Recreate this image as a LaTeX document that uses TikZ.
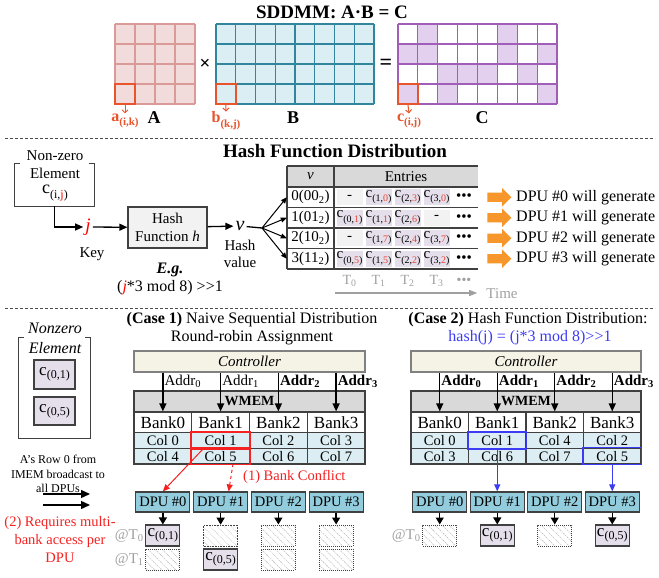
\documentclass[tikz,border=0pt]{standalone}
\usepackage{fontspec}
\setmainfont{Liberation Serif}
\usetikzlibrary{arrows.meta,patterns.meta,shapes.arrows,calc}

\definecolor{apink}{HTML}{F2DCDB}
\definecolor{apinkln}{HTML}{DA9A97}
\definecolor{hired}{HTML}{E8542C}
\definecolor{bblue}{HTML}{DBEEF4}
\definecolor{bteal}{HTML}{31859C}
\definecolor{cline}{HTML}{A05EB8}
\definecolor{cfill}{HTML}{E3D0EE}
\definecolor{entry}{HTML}{E5DFEC}
\definecolor{emptyc}{HTML}{F2F2F2}
\definecolor{hdr}{HTML}{D9D9D9}
\definecolor{orng}{HTML}{F7962A}
\definecolor{dpuc}{HTML}{93CDDD}
\definecolor{ctrlc}{HTML}{F5F3E6}
\definecolor{colc}{HTML}{DCEEF3}
\definecolor{hblue}{HTML}{3C3CF5}
\definecolor{confl}{HTML}{F52222}
\definecolor{tgray}{HTML}{A0A0A0}
\definecolor{idx}{HTML}{E8452E}
\definecolor{edge}{HTML}{404040}

\newcommand{\fsz}[1]{\fontsize{#1}{#1}\selectfont}
% letter with a lowered, smaller index
\newcommand{\lsub}[4]{{\fsz{#1}#3}\raisebox{-0.3em}{\fsz{#2}#4}}
\newcommand{\ce}[2]{\lsub{15}{10}{c}{(#1,\textcolor{idx}{#2})}}
\newcommand{\cbig}[1]{\lsub{17}{12}{c}{(#1)}}

\begin{document}
\begin{tikzpicture}[x=1pt,y=-1pt,
  conn/.style={line width=1.3pt,-{Triangle[length=8pt,width=7pt]}},
  down/.style={line width=1.3pt,-{Triangle[length=7pt,width=8pt]}},
  fine/.style={line width=1pt,-{Triangle[length=6pt,width=5pt]}},
  txt/.style={inner sep=0pt},
  sep/.style={line width=0.9pt,gray!60!black,dash pattern=on 3pt off 2pt},
  frame/.style={line width=1.3pt,edge},
  entc/.style={fill=entry,draw=white,line width=0.8pt,minimum width=27pt,minimum height=17pt,inner sep=0pt,font=\fsz{15}},
  emc/.style={entc,fill=emptyc},
  pcell/.style={fill=entry,draw=edge,line width=1.1pt,inner sep=0pt},
  hatch/.style={draw=edge,densely dotted,line width=1pt,pattern={Lines[angle=-45,distance=5pt,line width=0.6pt]},pattern color=gray!50,inner sep=0pt,minimum width=34pt,minimum height=21pt},
  res/.style={pcell,minimum width=34pt,minimum height=21pt},
  ctrlbox/.style={fill=ctrlc,draw=gray,line width=1.5pt,minimum height=21pt,inner sep=0pt,font=\fsz{15}\itshape},
  wmembox/.style={fill=hdr,draw=edge,line width=1.3pt,minimum height=21pt,inner sep=0pt,font=\fsz{14}\bfseries},
  bankc/.style={fill=white,draw=edge,line width=1.2pt,minimum height=20.5pt,inner sep=0pt,font=\fsz{17}},
  colcell/.style={fill=colc,draw=edge,line width=1.2pt,minimum height=15.75pt,inner sep=0pt,font=\fsz{14.5}},
  dpubox/.style={fill=dpuc,draw=edge,line width=1.2pt,minimum width=54pt,minimum height=20pt,inner sep=0pt,font=\fsz{14.5}},
  addr/.style={anchor=west,inner sep=0pt,font=\fsz{15}},
  hl/.style={line width=1.4pt},
  oarrow/.style={single arrow,fill=orng,draw=none,inner sep=4.5pt,single arrow head extend=4.5pt,single arrow head indent=0pt,minimum height=24pt,minimum width=18pt}
]
\useasboundingbox (0,0) rectangle (659,578);
\fill[white] (0,0) rectangle (659,578);

% ================= SDDMM: A.B = C =================
\node[txt,font=\fsz{19}\bfseries] (title) at (332,12) {SDDMM: A·B = C};

% matrix A (4x4)
\fill[apink] (115,24) rectangle (195,104);
\foreach \k in {0,...,4}{
  \draw[apinkln,line width=1.1pt] (115+20*\k,24) -- (115+20*\k,104);
  \draw[apinkln,line width=1.1pt] (115,24+20*\k) -- (195,24+20*\k);
}
\node[draw=hired,line width=1.5pt,minimum size=20pt,inner sep=0pt] (acell) at (125,94) {};
\node[txt,text=hired,font=\fsz{16}\bfseries] (alab) at (125,121) {\lsub{16}{11}{a}{(i,k)}};
\draw[hired,line width=1pt,-{Straight Barb[length=3pt,width=6pt]}] (acell.south) -- (alab.north);
\node[txt,font=\fsz{18}\bfseries] (aname) at (154,118) {A};

\node[txt,font=\fsz{19}\bfseries] (optimes) at (205,64) {×};

% matrix B (4x8)
\fill[bblue] (216,24) rectangle (374,104);
\foreach \k in {0,...,8}
  \draw[bteal,line width=1.1pt] (216+19.75*\k,24) -- (216+19.75*\k,104);
\foreach \k in {0,...,4}
  \draw[bteal,line width=1.1pt] (216,24+20*\k) -- (374,24+20*\k);
\node[draw=hired,line width=1.5pt,minimum width=19.75pt,minimum height=20pt,inner sep=0pt] (bcell) at (225.875,94) {};
\node[txt,text=hired,font=\fsz{16}\bfseries] (blab) at (226,121) {\lsub{16}{11}{b}{(k,j)}};
\draw[hired,line width=1pt,-{Straight Barb[length=3pt,width=6pt]}] (bcell.south) -- (blab.north);
\node[txt,font=\fsz{18}\bfseries] (bname) at (293,118) {B};

\node[txt,font=\fsz{22}\bfseries] (opeq) at (386,64) {=};

% matrix C (4x8, sampled)
\foreach \c/\r in {1/0,5/0,0/1,1/1,5/1,7/1,2/2,3/2,4/2,6/2,0/3,2/3,7/3}
  \fill[cfill] (398+19.875*\c,24+20*\r) rectangle +(19.875,20);
\foreach \k in {0,...,8}
  \draw[cline,line width=1.1pt] (398+19.875*\k,24) -- (398+19.875*\k,104);
\foreach \k in {0,...,4}
  \draw[cline,line width=1.1pt] (398,24+20*\k) -- (557,24+20*\k);
\node[draw=hired,line width=1.5pt,minimum width=19.875pt,minimum height=20pt,inner sep=0pt] (ccell) at (407.94,94) {};
\node[txt,text=hired,font=\fsz{16}\bfseries] (clab) at (409,121) {\lsub{16}{11}{c}{(i,j)}};
\draw[hired,line width=1pt,-{Straight Barb[length=3pt,width=6pt]}] (ccell.south) -- (clab.north);
\node[txt,font=\fsz{18}\bfseries] (cname) at (482,118) {C};

\draw[sep] (5,138) -- (655,138);

% ================= Hash function distribution =================
\node[txt,font=\fsz{19}\bfseries] (htitle) at (335,151) {Hash Function Distribution};

\node[minimum width=79pt,minimum height=42pt,inner sep=0pt] (nz) at (54.5,185) {};
\draw[frame] ($(nz.north west)+(5,0)$) -- (nz.north west) -- (nz.south west) -- (nz.south east) -- (nz.north east) -- ++(-5,0);
\node[txt,font=\fsz{15}] (nzt1) at (55,156) {Non-zero};
\node[txt,font=\fsz{15}] (nzt2) at (55,173) {Element};
\node[txt,font=\fsz{15}] (nzt3) at (55,193) {\lsub{18}{12}{c}{(i,\textcolor{red}{j})}};

\node[inner sep=2pt,text=red,font=\fsz{19}\itshape] (jkey) at (88,227) {j};
\node[txt,font=\fsz{15}] (keyl) at (92,254) {Key};
\node[draw=edge,fill=emptyc,line width=1.2pt,minimum width=79pt,minimum height=41pt,inner sep=0pt,align=center,font=\fontsize{15}{18}\selectfont] (hf) at (167.5,227.5) {Hash\\Function \textit{h}};
\node[inner sep=2pt,font=\fsz{20}\itshape] (vv) at (240,226) {v};
\node[txt,font=\fsz{15}] (hv1) at (240,245) {Hash};
\node[txt,font=\fsz{15}] (hv2) at (240,262) {value};
\draw[conn] (nz.south) |- (jkey);
\draw[conn] (jkey) -- (hf);
\draw[conn] (hf) -- (vv);
\coordinate (br) at (262,228);
\draw[line width=1.3pt] (vv) -- (br);

\node[txt,font=\fsz{16}\bfseries\itshape] (eg) at (170,270) {E.g.};
\node[txt,font=\fsz{16}] (egf) at (170,288) {(\textcolor{red}{\textit{j}}*3 mod 8) >\kern0pt>1};

% table of hash buckets
\fill[hdr] (287,166) rectangle (478,187);
\foreach \yy in {166,187,207.5,228,248.5,269}
  \draw[edge,line width=1.3pt] (287,\yy) -- (478,\yy);
\draw[edge,line width=1.3pt] (287,166) -- (287,269);
\draw[edge,line width=1.3pt] (334,166) -- (334,269);
\node[txt,font=\fsz{15}\itshape] (vh) at (310.5,176.5) {v};
\node[txt,font=\fsz{15}] (enth) at (406,176.5) {Entries};
\foreach \n/\bits in {0/00,1/01,2/10,3/11}{
  \node[txt,minimum width=47pt,minimum height=20.5pt,font=\fsz{15}] (vr\n) at (310.5,197.25+20.5*\n) {\n(\bits\textsubscript{2})};
  \draw[fine] (br) -- (vr\n.west);
  \node[txt,font=\fsz{15}] (dt\n) at (464,197.25+20.5*\n) {•••};
  \node[oarrow] (oa\n) at (497,197.25+20.5*\n) {};
  \node[txt,anchor=west,font=\fsz{16}] (gen\n) at (516,197.25+20.5*\n) {DPU \#\n{} will generate};
}
\node[emc]  (e00) at (349.5,197.25) {-};
\node[entc] (e01) at (378.5,197.25) {\ce{1}{0}};
\node[entc] (e02) at (407.5,197.25) {\ce{2}{3}};
\node[entc] (e03) at (436.5,197.25) {\ce{3}{0}};
\node[entc] (e10) at (349.5,217.75) {\ce{0}{1}};
\node[entc] (e11) at (378.5,217.75) {\ce{1}{1}};
\node[entc] (e12) at (407.5,217.75) {\ce{2}{6}};
\node[emc]  (e13) at (436.5,217.75) {-};
\node[emc]  (e20) at (349.5,238.25) {-};
\node[entc] (e21) at (378.5,238.25) {\ce{1}{7}};
\node[entc] (e22) at (407.5,238.25) {\ce{2}{4}};
\node[entc] (e23) at (436.5,238.25) {\ce{3}{7}};
\node[entc] (e30) at (349.5,258.75) {\ce{0}{5}};
\node[entc] (e31) at (378.5,258.75) {\ce{1}{5}};
\node[entc] (e32) at (407.5,258.75) {\ce{2}{2}};
\node[entc] (e33) at (436.5,258.75) {\ce{3}{2}};

% time axis
\foreach \k in {0,...,3}
  \node[txt,text=tgray,font=\fsz{14}] (tm\k) at (349.5+29*\k,281) {T\textsubscript{\k}};
\node[txt,text=tgray,font=\fsz{14}] (tdots) at (464,281) {•••};
\coordinate (tax) at (335,293);
\node[txt,text=tgray,font=\fsz{15}] (timel) at (502,294) {Time};
\draw[tgray,line width=1.2pt,-{Triangle[length=8pt,width=6pt]},shorten >=9pt] (tax) -- (tax -| timel.west);

\draw[sep] (5,308) -- (655,308);

% ================= bottom: two distributions =================
\node[minimum width=71pt,minimum height=100pt,inner sep=0pt] (nzb) at (54.5,388) {};
\draw[frame] ($(nzb.north west)+(5,0)$) -- (nzb.north west) -- (nzb.south west) -- (nzb.south east) -- (nzb.north east) -- ++(-5,0);
\node[txt,font=\fsz{16}\itshape] (nzb1) at (55,328) {Nonzero};
\node[txt,font=\fsz{16}\itshape] (nzb2) at (55,348) {Element};
\node[pcell,minimum width=41pt,minimum height=29pt] (nzc1) at (54.5,374.5) {\cbig{0,1}};
\node[pcell,minimum width=41pt,minimum height=28pt] (nzc2) at (54.5,411) {\cbig{0,5}};

\node[txt,align=center,font=\fontsize{12}{14.5}\selectfont] (bcast) at (58,474) {A's Row 0 from\\IMEM broadcast to\\all DPUs};
\coordinate (bs1) at (43,494); \coordinate (be1) at (90,494);
\coordinate (bs2) at (43,505); \coordinate (be2) at (90,505);
\draw[line width=1.4pt,-{Triangle[length=9pt,width=8pt]}] (bs1) -- (be1);
\draw[line width=1.4pt,-{Triangle[length=9pt,width=8pt]}] (bs2) -- (be2);
\node[txt,align=center,text=confl,font=\fontsize{14.5}{18}\selectfont] (multi) at (60,540) {(2) Requires multi-\\bank access per\\DPU};

% ----- case 1 -----
\node[txt,font=\fsz{16}] (c1t) at (252,320) {\textbf{(Case 1)} Naive Sequential Distribution};
\node[txt,font=\fsz{16}] (c1s) at (252,338) {Round-robin Assignment};
\node[ctrlbox,minimum width=231pt] (ctl1) at (249.5,361.5) {Controller};
\node[wmembox,minimum width=231pt] (wm1) at (249.5,401.5) {WMEM};
\foreach \k/\p/\q in {0/0/4,1/1/5,2/2/6,3/3/7}{
  \node[bankc,minimum width=57.75pt] (bk1\k) at (162.875+57.75*\k,422.25) {Bank\k};
  \node[colcell,minimum width=57.75pt] (ca1\k) at (162.875+57.75*\k,440.4) {Col \p};
  \node[colcell,minimum width=57.75pt] (cb1\k) at (162.875+57.75*\k,456.1) {Col \q};
  \node[dpubox] (d1\k) at (162.875+57.75*\k,502) {DPU \#\k};
  \draw[conn] (ctl1.south -| bk1\k.north) -- (bk1\k.north);
}
\foreach \k/\lab in {0/{Addr\textsubscript{0}},1/{Addr\textsubscript{1}},2/{\textbf{Addr\textsubscript{2}}},3/{\textbf{Addr\textsubscript{3}}}}
  \node[addr] (al1\k) at ($(bk1\k.north)+(1.5,-30)$) {\lab};
\draw[confl,hl] (ca11.north west) rectangle (ca11.south east);
\draw[confl,hl] (cb11.north west) rectangle (cb11.south east);

\node[res]   (r10) at (162.875,535.5) {\cbig{0,1}};
\node[hatch] (r11) at (220.625,535.5) {};
\node[hatch] (r12) at (278.375,535.5) {};
\node[hatch] (r13) at (336.125,535.5) {};
\node[hatch] (s10) at (162.875,559.5) {};
\node[res]   (s11) at (220.625,559.5) {\cbig{0,5}};
\node[hatch] (s12) at (278.375,559.5) {};
\node[hatch] (s13) at (336.125,559.5) {};
\foreach \k in {0,...,3} \draw[down] (d1\k.south) -- (r1\k.north);
\node[txt,anchor=east,text=tgray,font=\fsz{15}] (at10) at ($(r10.west)+(-1.5,0)$) {@T\textsubscript{0}};
\node[txt,anchor=east,text=tgray,font=\fsz{15}] (at11) at ($(s10.west)+(-1.5,0)$) {@T\textsubscript{1}};

\coordinate (cfa) at (203,449);
\coordinate (cfb) at (233,464);
\draw[confl,line width=1pt,-{Triangle[length=7pt,width=6pt]}] (cfa) -- (d10.north);
\draw[confl,line width=1pt,dashed,-{Triangle[length=7pt,width=6pt]}] (cfb) -- ($(d11.north)+(8,0)$);
\node[txt,anchor=west,text=confl,font=\fsz{14.5}] (bconf) at (243,477) {(1) Bank Conflict};

% ----- case 2 -----
\node[txt,font=\fsz{16}] (c2t) at (528,320) {\textbf{(Case 2)} Hash Function Distribution:};
\node[txt,text=hblue,font=\fsz{16}] (c2s) at (530,338) {hash(j) = (j*3 mod 8)>\kern0pt>1};
\node[ctrlbox,minimum width=230pt] (ctl2) at (526,361.5) {Controller};
\node[wmembox,minimum width=230pt] (wm2) at (526,401.5) {WMEM};
\foreach \k/\p/\q in {0/0/3,1/1/6,2/4/7,3/2/5}{
  \node[bankc,minimum width=57.5pt] (bk2\k) at (439.75+57.5*\k,422.25) {Bank\k};
  \node[colcell,minimum width=57.5pt] (ca2\k) at (439.75+57.5*\k,440.4) {Col \p};
  \node[colcell,minimum width=57.5pt] (cb2\k) at (439.75+57.5*\k,456.1) {Col \q};
  \node[dpubox] (d2\k) at (439.75+57.5*\k,502) {DPU \#\k};
  \draw[conn] (ctl2.south -| bk2\k.north) -- (bk2\k.north);
  \node[addr,font=\fsz{15}\bfseries] (al2\k) at ($(bk2\k.north)+(1.5,-30)$) {Addr\textsubscript{\k}};
}
\draw[hblue,hl] (ca21.north west) rectangle (ca21.south east);
\draw[hblue,hl] (cb23.north west) rectangle (cb23.south east);
\draw[hblue,line width=1.1pt,-{Triangle[length=7pt,width=6pt]}] (ca21.south) -- (d21.north);
\draw[hblue,line width=1.1pt,-{Triangle[length=7pt,width=6pt]}] (cb23.south) -- (d23.north);

\node[hatch] (r20) at (439.75,535.5) {};
\node[res]   (r21) at (497.25,535.5) {\cbig{0,1}};
\node[hatch] (r22) at (554.75,535.5) {};
\node[res]   (r23) at (612.25,535.5) {\cbig{0,5}};
\foreach \k in {0,...,3} \draw[down] (d2\k.south) -- (r2\k.north);
\node[txt,anchor=east,text=tgray,font=\fsz{15}] (at20) at ($(r20.west)+(-1.5,0)$) {@T\textsubscript{0}};
\end{tikzpicture}
\end{document}
